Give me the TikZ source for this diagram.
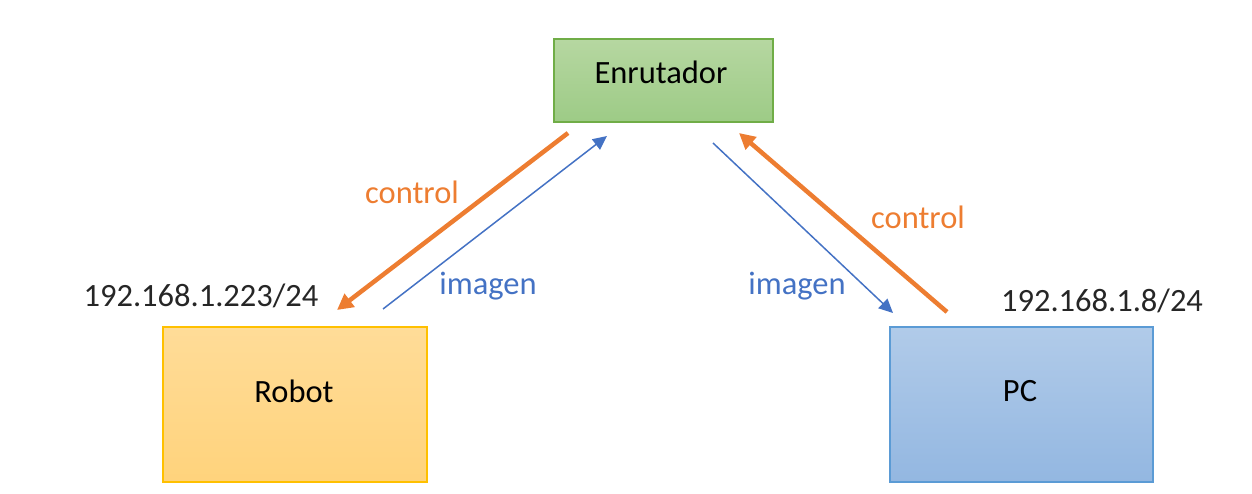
\documentclass[tikz,border=0pt]{standalone}
\usepackage{fontspec}
\setmainfont{Carlito}
\usetikzlibrary{arrows.meta}
\definecolor{ored}{HTML}{ED7D31}
\definecolor{oblue}{HTML}{4472C4}
\definecolor{gborder}{HTML}{70AD47}
\definecolor{gtop}{HTML}{B6D7A1}
\definecolor{gbot}{HTML}{9DCB86}
\definecolor{yborder}{HTML}{FFC000}
\definecolor{ytop}{HTML}{FFDC98}
\definecolor{ybot}{HTML}{FFD37C}
\definecolor{bborder}{HTML}{5B9BD5}
\definecolor{btop}{HTML}{B1CBE9}
\definecolor{bbot}{HTML}{93B7E1}
\begin{document}
\begin{tikzpicture}[x=1pt,y=-1pt,
  every node/.style={font=\fontsize{32.5}{38}\selectfont},
  boxnode/.style={draw, line width=1.2pt, inner sep=0pt},
  ctrl/.style={draw=ored, line width=4.5pt, -{Triangle[length=16pt,width=16pt]}},
  img/.style={draw=oblue, line width=1.5pt, -{Triangle[length=14pt,width=13pt]}},
  ctrllabel/.style={text=ored},
  imglabel/.style={text=oblue},
  iplabel/.style={text=black!85}]
\useasboundingbox (0,0) rectangle (1252,493);
\node[boxnode, draw=gborder, top color=gtop, bottom color=gbot, minimum width=219pt, minimum height=83pt] (router) at (663.5,80.5) {};
\node at (661,72) (routertext) {Enrutador};
\node[boxnode, draw=yborder, top color=ytop, bottom color=ybot, minimum width=264pt, minimum height=155pt] (robot) at (295,404.5) {};
\node at (294,391) (robottext) {Robot};
\node[boxnode, draw=bborder, top color=btop, bottom color=bbot, minimum width=263pt, minimum height=155pt] (pc) at (1021.5,404.5) {};
\node at (1020,391) (pctext) {PC};
\node[iplabel] (ip1) at (201,296) {192.168.1.223/24};
\node[iplabel] (ip2) at (1102,301) {192.168.1.8/24};
\coordinate (a1s) at (568,133);
\coordinate (a1e) at (337,310);
\coordinate (a2s) at (383,309);
\coordinate (a2e) at (607,136);
\coordinate (a3s) at (713,143);
\coordinate (a3e) at (893,313);
\coordinate (a4s) at (947,312);
\coordinate (a4e) at (739,133);
\draw[ctrl] (a1s) -- (a1e);
\draw[img] (a2s) -- (a2e);
\draw[img] (a3s) -- (a3e);
\draw[ctrl] (a4s) -- (a4e);
\node[ctrllabel] (c1) at (412,192) {control};
\node[imglabel] (i1) at (488,286) {imagen};
\node[imglabel] (i2) at (797,286) {imagen};
\node[ctrllabel] (c2) at (918,217) {control};
\end{tikzpicture}
\end{document}
